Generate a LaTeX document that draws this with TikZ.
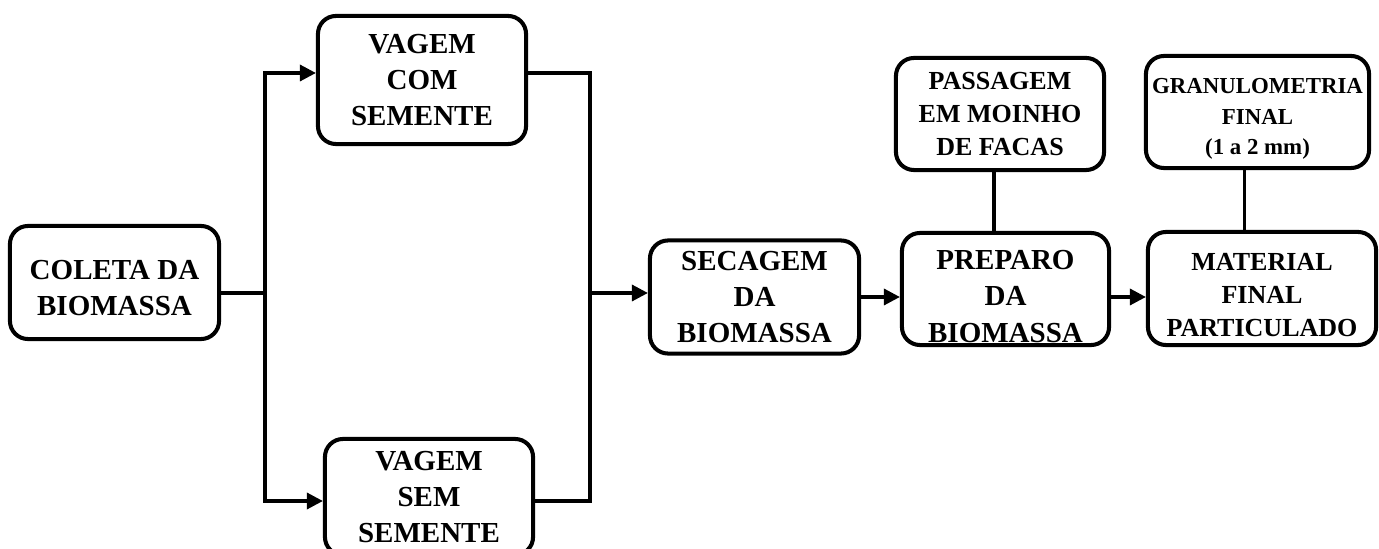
\documentclass[tikz,border=0pt]{standalone}
\usepackage{fontspec}
\setmainfont{Liberation Serif}
\usetikzlibrary{arrows.meta}

\tikzset{
  box/.style={draw, line width=1.15pt, rounded corners=0.18cm, inner sep=0pt, align=center,
    font=\bfseries\fontsize{8.25}{10.3}\selectfont},
  midtxt/.style={font=\bfseries\fontsize{7.4}{9.4}\selectfont},
  smalltxt/.style={font=\bfseries\fontsize{6.5}{8.6}\selectfont},
  link/.style={line width=0.95pt},
}

\begin{document}
\begin{tikzpicture}[x=0.01cm, y=-0.01cm, >={Triangle[length=0.16cm,width=0.16cm]}]
\path[use as bounding box, clip] (0,0) rectangle (1379,549);
\node[box, minimum width=2.09cm, minimum height=1.13cm] (coleta) at (114.5,282.5) {\rule{0pt}{0.31cm}COLETA DA\\BIOMASSA};
\node[box, minimum width=2.08cm, minimum height=1.28cm] (vcom) at (422,80) {VAGEM\\COM\\SEMENTE};
\node[box, minimum width=2.08cm, minimum height=1.16cm] (vsem) at (429,497) {VAGEM\\SEM\\SEMENTE};
\node[box, minimum width=2.09cm, minimum height=1.13cm] (secagem) at (754.5,297) {SECAGEM\\DA\\BIOMASSA};
\node[box, minimum width=2.07cm, minimum height=1.12cm] (preparo) at (1005.5,289) {\rule{0pt}{0.34cm}PREPARO\\DA\\BIOMASSA};
\node[box, midtxt, minimum width=2.28cm, minimum height=1.13cm] (material) at (1262,288.5) {\rule{0pt}{0.30cm}MATERIAL\\FINAL\\PARTICULADO};
\node[box, midtxt, minimum width=2.08cm, minimum height=1.12cm] (passagem) at (1000,114) {PASSAGEM\\EM MOINHO\\DE FACAS};
\node[box, smalltxt, minimum width=2.23cm, minimum height=1.12cm] (gran) at (1257.5,112) {\rule{0pt}{0.29cm}GRANULOMETRIA\\FINAL\\(1 a 2 mm)};

\coordinate (split) at (265,293);
\coordinate (upL) at (265,73);
\coordinate (loL) at (265,501);
\coordinate (upR) at (590,73);
\coordinate (loR) at (590,501);
\coordinate (merge) at (590,293);

\draw[link] (coleta.east |- split) -- (split);
\draw[link, ->] (split) -- (upL) -- (upL -| vcom.west);
\draw[link, ->] (split) -- (loL) -- (loL -| vsem.west);
\draw[link] (upR -| vcom.east) -- (upR) -- (loR) -- (loR -| vsem.east);
\draw[link, ->] (merge) -- (merge -| secagem.west);
\draw[link, ->] (secagem.east) -- (secagem.east -| preparo.west);
\draw[link, ->] (preparo.east |- secagem.east) -- (material.west |- secagem.east);
\draw[link] ([xshift=-0.06cm]passagem.south) -- ([xshift=-0.06cm]passagem.south |- preparo.north);
\draw[link] ([xshift=-0.13cm]gran.south) -- ([xshift=-0.13cm]gran.south |- material.north);
\end{tikzpicture}
\end{document}
